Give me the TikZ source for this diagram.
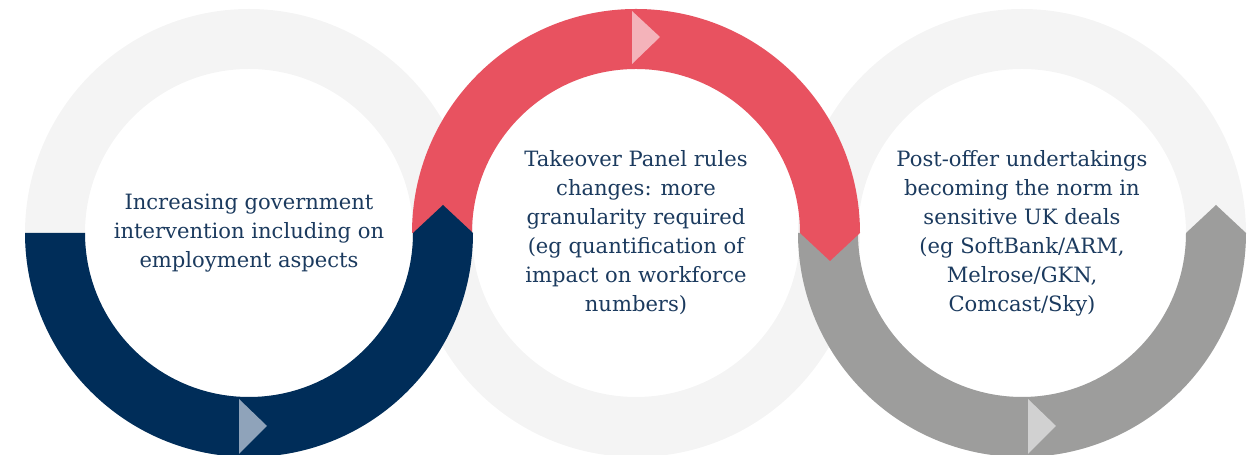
\documentclass[tikz,border=0pt]{standalone}
\usepackage{fontspec}
\setmainfont{DejaVu Serif}
\definecolor{ringgray}{HTML}{F4F4F4}
\definecolor{navyband}{HTML}{002D59}
\definecolor{navytip}{HTML}{8FA3BA}
\definecolor{redband}{HTML}{E85260}
\definecolor{redtip}{HTML}{F4B3BA}
\definecolor{grayband}{HTML}{9D9D9C}
\definecolor{graytip}{HTML}{D1D1D1}
\definecolor{textnavy}{HTML}{1B3A5E}
\begin{document}
\begin{tikzpicture}[x=0.02cm,y=0.02cm]
		\tikzstyle{ring}=[draw=ringgray,line width=1.2cm]
		\tikzstyle{label}=[align=center,text=textnavy,font=\fontsize{12}{16.5}\selectfont]
		\useasboundingbox (0,0) rectangle (1252,455);
		\coordinate (c1) at (249,222);
		\coordinate (c2) at (636,222);
		\coordinate (c3) at (1022,222);
		% pale rings
		\draw[ring] (c1) circle (194);
		\draw[ring] (c2) circle (194);
		\draw[ring] (c3) circle (194);
		% grey band, right ring
		\begin{scope}[shift={(c3)}]
			\fill[grayband] (-224,0) arc[start angle=180,end angle=360,radius=224]
				-- (194,28) -- (164,0) arc[start angle=0,end angle=-180,radius=164] -- cycle;
			\fill[graytip] (6,-166) -- (6,-221) -- (34,-193) -- cycle;
		\end{scope}
		% red band, middle ring
		\begin{scope}[shift={(c2)}]
			\fill[redband] (-224,0) arc[start angle=180,end angle=0,radius=224]
				-- (194,-28) -- (164,0) arc[start angle=0,end angle=180,radius=164] -- cycle;
			\fill[redtip] (-4,222) -- (-4,169) -- (24,196) -- cycle;
		\end{scope}
		% navy band, left ring
		\begin{scope}[shift={(c1)}]
			\fill[navyband] (-224,0) arc[start angle=180,end angle=360,radius=224]
				-- (194,28) -- (164,0) arc[start angle=0,end angle=-180,radius=164] -- cycle;
			\fill[navytip] (-10,-166) -- (-10,-221) -- (18,-193) -- cycle;
		\end{scope}
		% texts
		\node [label] (t1) at (c1) {Increasing government\\intervention including on\\employment aspects};
		\node [label] (t2) at (c2) {Takeover Panel rules\\changes: more\\granularity required\\(eg quantification of\\impact on workforce\\numbers)};
		\node [label] (t3) at (c3) {Post-offer undertakings\\becoming the norm in\\sensitive UK deals\\(eg SoftBank/ARM,\\Melrose/GKN,\\Comcast/Sky)};
\end{tikzpicture}
\end{document}
